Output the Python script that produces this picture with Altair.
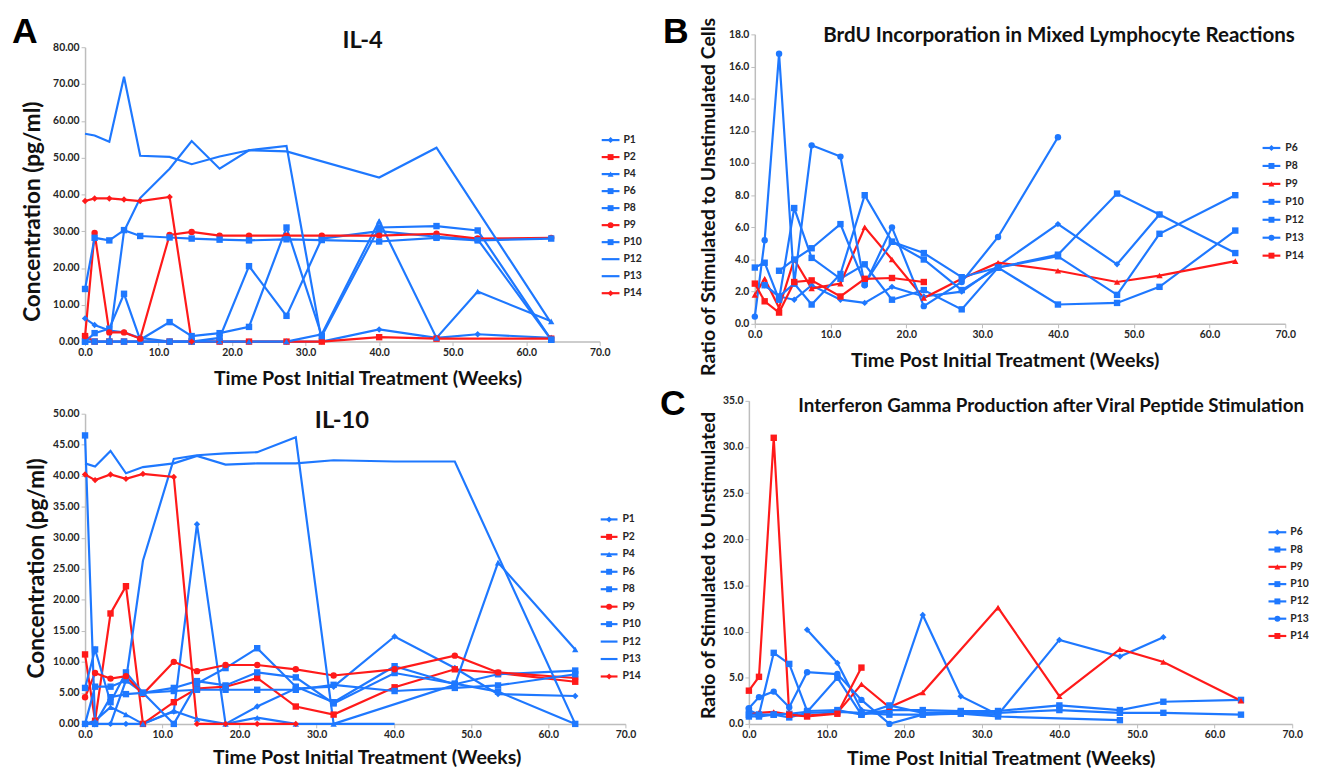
import altair as alt
import pandas as pd

BLUE = "#1e78ff"
RED = "#ff1a1a"
FONT = "Lato"
INK = "#262626"
AXIS_GRAY = "#bdbdbd"

# ---------------- IL-4 ----------------
IL4_WEEKS = [0.0, 1.3, 3.3, 5.3, 7.5, 11.5, 14.5, 18.3, 22.3, 27.4, 32.2, 40.0, 47.8, 53.4, 63.4]
IL4_P1 = [6.3, 4.5, 3.0, 2.5, 1.0, 0.0, 0.0, 0.0, 0.0, 0.0, 0.0, 3.3, 1.0, 2.0, 1.0]
IL4_P2 = [1.5, 0.0, 0.0, 0.0, 0.0, 0.0, 0.0, 0.0, 0.0, 0.0, 0.0, 1.2, 0.8, None, 0.8]
IL4_P4 = [0.0, 0.0, 0.0, 0.0, 0.0, 0.0, 0.0, 0.0, 0.0, 0.0, 2.0, 32.8, 1.0, 13.6, 5.5]
IL4_P6 = [0.0, 2.3, 3.5, 13.0, 0.5, 5.3, 1.5, 2.3, 4.0, 31.0, 1.5, 31.0, 31.4, 30.2, 0.5]
IL4_P8 = [0.0, 0.0, 0.0, 0.0, 0.0, 0.0, 0.0, 1.0, 20.5, 7.0, 28.0, 30.0, 28.5, 27.8, 0.5]
IL4_P9 = [1.5, 29.5, 2.5, 2.5, 0.8, 29.0, 29.8, 28.8, 28.8, 28.8, 28.8, 28.8, 29.3, 28.0, 28.2]
IL4_P10 = [14.3, 28.2, 27.5, 30.3, 28.7, 28.3, 28.0, 27.7, 27.5, 27.8, 27.6, 27.2, 28.2, 27.5, 28.0]
IL4_P12 = [56.5, 56.0, 54.3, 72.0, 50.5, 50.2, 48.2, 50.3, 52.0, 51.7, None, 44.6, 52.7, None, 5.0]
IL4_P13 = [None, None, 0.0, 30.0, 39.0, 47.0, 54.5, 47.0, 52.0, 53.2, 0.0, None, None, None, None]
IL4_P14 = [38.2, 38.9, 38.9, 38.6, 38.2, 39.3, 0.0, None, None, None, None, None, None, None, None]

# ---------------- IL-10 ----------------
IL10_WEEKS = [0.0, 1.3, 3.3, 5.3, 7.5, 11.5, 14.5, 18.2, 22.3, 27.3, 32.2, 40.1, 47.9, 53.5, 63.5]
IL10_P1 = [0.0, 0.0, 0.0, 0.0, 0.0, 2.0, 32.2, 0.0, 2.8, 5.7, 6.0, 14.1, 9.0, 4.8, 4.5]
IL10_P2 = [11.2, 0.5, 17.8, 22.2, 0.0, 3.5, 5.7, 6.0, 7.4, 2.8, 1.5, 5.9, 8.8, 8.2, 6.8]
IL10_P4 = [0.0, 0.5, 2.7, 1.5, 0.0, 2.1, 0.8, 0.0, 1.0, 0.0, 0.0, None, 6.3, 26.0, 12.0]
IL10_P6 = [5.8, 12.0, 3.5, 8.3, 5.0, 0.0, 6.5, 9.0, 12.2, 6.0, 3.5, 9.3, 6.4, 8.0, 8.6]
IL10_P8 = [0.0, 6.0, 6.0, 7.0, 5.0, 5.8, 6.9, 6.2, 8.3, 7.5, 3.3, 8.2, 6.5, 5.2, 0.0]
IL10_P9 = [4.3, 8.2, 7.3, 7.7, 4.8, 10.0, 8.5, 9.5, 9.5, 8.8, 7.8, 8.8, 11.0, 8.3, 7.4]
IL10_P10 = [46.5, 0.0, 4.3, 4.8, 5.0, 5.3, 5.5, 5.5, 5.5, 5.5, 6.3, 5.3, 5.8, 6.2, 8.0]
IL10_P12 = [42.0, 41.5, 44.0, 40.4, 41.4, 42.0, 43.2, 41.8, 42.0, 42.0, 42.5, 42.3, 42.3, None, 0.0]
IL10_P13 = [None, None, 0.0, 7.0, 26.3, 42.7, 43.3, 43.6, 43.8, 46.2, 0.0, 0.0, None, None, None]
IL10_P14 = [40.2, 39.3, 40.2, 39.5, 40.3, 39.8, 0.0, 0.0, 0.0, 0.0, None, None, None, None, None]

# ---------------- BrdU (B) ----------------
MLR_WEEKS = [0.0, 1.3, 3.2, 5.2, 7.5, 11.3, 14.5, 18.1, 22.3, 27.3, 32.1, 40.0, 47.8, 53.4, 63.4]
MLR_P6 = [None, 2.4, 1.7, 1.5, 2.4, 1.5, 1.3, 2.3, 1.7, 2.0, 3.6, 6.2, 3.7, 6.8, None]
MLR_P8 = [3.5, 3.8, 1.5, 7.2, 4.1, 2.8, 3.7, 1.5, 2.1, 0.9, 3.5, 1.2, 1.3, 2.3, 5.8]
MLR_P9 = [1.8, 2.8, 1.0, 4.0, 2.2, 2.5, 6.0, 4.0, 1.6, 2.8, 3.8, 3.3, 2.6, 3.0, 3.9]
MLR_P10 = [None, None, 3.3, 4.0, 4.7, 6.2, 2.5, 5.1, 4.4, 2.9, 3.5, 4.3, 8.1, 6.8, 4.4]
MLR_P12 = [None, 2.4, 1.7, 2.5, 1.2, 3.1, 8.0, 5.1, 4.0, 2.1, 3.5, 4.2, 1.8, 5.6, 8.0]
MLR_P13 = [0.45, 5.2, 16.8, 2.5, 11.1, 10.4, 2.4, 6.0, 1.1, 2.6, 5.4, 11.6, None, None, None]
MLR_P14 = [2.5, 1.4, 0.7, 2.6, 2.7, 1.7, 2.8, 2.85, 2.6, None, None, None, None, None, None]

# ---------------- IFN-gamma (C) ----------------
IFN_WEEKS = [0.0, 1.3, 3.2, 5.2, 7.5, 11.4, 14.5, 18.1, 22.4, 27.3, 32.1, 40.0, 47.8, 53.4, 63.4]
IFN_P6 = [None, None, None, None, 10.2, 6.6, 1.5, 1.2, 11.8, 3.0, 1.0, 9.1, 7.3, 9.4, None]
IFN_P8 = [1.5, 1.0, 7.7, 6.5, 1.4, 1.5, 1.0, 1.5, 1.5, 1.4, 1.4, 2.0, 1.5, 2.4, 2.6]
IFN_P9 = [1.0, 1.2, 1.3, 1.0, 0.9, 1.2, 4.3, 1.8, 3.4, None, 12.6, 3.0, 8.1, 6.7, 2.5]
IFN_P10 = [1.0, 1.0, 1.0, 1.1, 1.3, 5.0, 1.0, 2.0, 1.2, 1.3, 1.2, 1.5, 1.2, 1.2, 1.0]
IFN_P12 = [0.8, 0.8, 1.0, 0.7, 1.2, 1.3, 1.2, 1.0, 1.0, 1.1, 0.8, None, 0.4, None, None]
IFN_P13 = [1.7, 2.9, 3.5, 1.8, 5.6, 5.4, 2.6, 0.0, 1.0, 1.2, 1.0, None, None, None, None]
IFN_P14 = [3.6, 5.1, 31.0, 1.0, 0.8, 1.1, 6.1, None, None, None, None, None, None, None, None]

IL_PATIENTS = ["P1", "P2", "P4", "P6", "P8", "P9", "P10", "P12", "P13", "P14"]
IL_COLORS = [BLUE, RED, BLUE, BLUE, BLUE, RED, BLUE, BLUE, BLUE, RED]
IL_MARKERS = {"P1": "diamond", "P2": "square", "P4": "triangle-up", "P6": "square",
              "P8": "square", "P9": "circle", "P10": "square", "P14": "diamond"}

MLR_PATIENTS = ["P6", "P8", "P9", "P10", "P12", "P13", "P14"]
MLR_COLORS = [BLUE, BLUE, RED, BLUE, BLUE, BLUE, RED]
MLR_MARKERS = {"P6": "diamond", "P8": "square", "P9": "triangle-up", "P10": "square",
               "P12": "square", "P13": "circle", "P14": "square"}

IL4 = dict(zip(IL_PATIENTS, [IL4_P1, IL4_P2, IL4_P4, IL4_P6, IL4_P8, IL4_P9, IL4_P10, IL4_P12, IL4_P13, IL4_P14]))
IL10 = dict(zip(IL_PATIENTS, [IL10_P1, IL10_P2, IL10_P4, IL10_P6, IL10_P8, IL10_P9, IL10_P10, IL10_P12, IL10_P13, IL10_P14]))
MLR = dict(zip(MLR_PATIENTS, [MLR_P6, MLR_P8, MLR_P9, MLR_P10, MLR_P12, MLR_P13, MLR_P14]))
IFN = dict(zip(MLR_PATIENTS, [IFN_P6, IFN_P8, IFN_P9, IFN_P10, IFN_P12, IFN_P13, IFN_P14]))


def long_df(weeks, series):
    rows = []
    for p, vals in series.items():
        for w, v in zip(weeks, vals):
            if v is not None:
                rows.append({"patient": p, "week": w, "value": v})
    return pd.DataFrame(rows)


def panel(weeks, series, patients, colors, markers, cfg):
    df = long_df(weeks, series)
    marker_patients = [p for p in patients if p in markers]
    marker_shapes = [markers[p] for p in marker_patients]

    color = alt.Color("patient:N", scale=alt.Scale(domain=patients, range=colors), legend=None)
    shape = alt.Shape("patient:N", scale=alt.Scale(domain=marker_patients, range=marker_shapes), legend=None)

    x = alt.X("week:Q",
              scale=alt.Scale(domain=[0, 70], range=[cfg["x0"], cfg["x0"] + cfg["xr"]], nice=False, zero=False),
              axis=alt.Axis(values=list(range(0, 71, 10)), format=".1f", grid=False,
                            offset=cfg["xoff"],
                            labelFlush=False, labelFont=FONT, labelFontWeight="bold",
                            labelFontSize=10.5, labelColor=INK, domainColor=AXIS_GRAY,
                            domainWidth=1.5, tickColor=AXIS_GRAY, tickSize=4,
                            title="Time Post Initial Treatment (Weeks)", titleFont=FONT,
                            titleFontWeight="bold", titleFontSize=19.8, titleColor="#111",
                            titleX=cfg["xtx"], titleY=cfg["xty"], titleAlign="center",
                            titleBaseline="middle"))
    y = alt.Y("value:Q",
              scale=alt.Scale(domain=[0, cfg["ymax"]], range=[cfg["ybot"], cfg["ytop"]], nice=False),
              axis=alt.Axis(values=cfg["yvals"], format=cfg["yfmt"], grid=False,
                            offset=-cfg["x0"],
                            labelFlush=False, labelFont=FONT, labelFontWeight="bold",
                            labelFontSize=10.5, labelColor=INK, domainColor=AXIS_GRAY,
                            domainWidth=1.5, tickColor=AXIS_GRAY, tickSize=4,
                            title=cfg["ytitle"], titleFont=FONT, titleFontWeight="bold",
                            titleFontSize=cfg["ytsize"], titleColor="#111",
                            titleX=cfg["ytx"], titleY=cfg["yty"], titleAngle=270,
                            titleAlign="center", titleBaseline="middle"))

    base = alt.Chart(df)
    lines = base.mark_line(strokeWidth=2.2).encode(x=x, y=y, color=color, detail="patient:N")
    pts = base.transform_filter(
        alt.FieldOneOfPredicate(field="patient", oneOf=marker_patients)
    ).mark_point(filled=True, size=42, opacity=1).encode(x=x, y=y, color=color, shape=shape)

    leg_df = pd.DataFrame({"patient": patients})
    ly = alt.Y("patient:N", scale=alt.Scale(type="point", domain=patients,
                                            range=[cfg["ly0"], cfg["ly1"]], padding=0), axis=None)
    leg_rule = alt.Chart(leg_df).mark_rule(strokeWidth=2.2).encode(
        x=alt.value(cfg["lx0"]), x2=alt.value(cfg["lx1"]), y=ly, color=color)
    leg_pts = alt.Chart(leg_df).transform_filter(
        alt.FieldOneOfPredicate(field="patient", oneOf=marker_patients)
    ).mark_point(filled=True, size=36, opacity=1).encode(
        x=alt.value((cfg["lx0"] + cfg["lx1"]) / 2), y=ly, color=color, shape=shape)
    leg_txt = alt.Chart(leg_df).mark_text(align="left", baseline="middle", font=FONT,
                                          fontWeight="bold", fontSize=10.5, color=INK).encode(
        x=alt.value(cfg["ltx"]), y=ly, text="patient:N")

    title = alt.Chart(pd.DataFrame({"t": [cfg["title"]]})).mark_text(
        align="center", baseline="middle", font=FONT, fontWeight="bold",
        fontSize=cfg["tsize"], color="#111").encode(
        x=alt.value(cfg["tx"]), y=alt.value(cfg["ty"]), text="t:N")
    letter = alt.Chart(pd.DataFrame({"t": [cfg["letter"]]})).mark_text(
        align="center", baseline="alphabetic", font="Liberation Sans", fontWeight="bold",
        fontSize=36, color="#000").encode(
        x=alt.value(cfg["lex"]), y=alt.value(cfg["ley"]), text="t:N")

    layers = [leg_rule, leg_pts, leg_txt, title]
    if cfg["letter"]:
        layers.append(letter)
    return alt.layer(alt.layer(lines, pts), alt.layer(*layers)).resolve_scale(
        y="independent").properties(width=cfg["gw"], height=cfg["gh"])


# Grid: both column-1 panels have the same width, both row-1 panels the same height.
cfgA = dict(x0=0, xr=521, gw=672, gh=333, ybot=333, ytop=35, xoff=0,
            ymax=80, yvals=list(range(0, 81, 10)), yfmt=".2f",
            ytitle="Concentration (pg/ml)", ytsize=22.8, ytx=-53, yty=201, xtx=286, xty=37,
            title="IL-4", tsize=24, tx=281, ty=29, letter="A", lex=-61, ley=31,
            lx0=523, lx1=541, ltx=545, ly0=129, ly1=284)
cfgB = dict(x0=6, xr=537, gw=565, gh=333, ybot=315, ytop=22, xoff=-18,
            ymax=18, yvals=list(range(0, 19, 2)), yfmt=".1f",
            ytitle="Ratio of Stimulated to Unstimulated Cells", ytsize=19.8, ytx=-47, yty=186,
            xtx=259, xty=37, title="BrdU Incorporation in Mixed Lymphocyte Reactions", tsize=20.8,
            tx=314, ty=24, letter="B", lex=-74, ley=31,
            lx0=520, lx1=538, ltx=543, ly0=137, ly1=246)
cfgIL10 = dict(x0=0, xr=547, gw=672, gh=387, ybot=387, ytop=73, xoff=0,
               ymax=50, yvals=list(range(0, 51, 5)), yfmt=".2f",
               ytitle="Concentration (pg/ml)", ytsize=22.8, ytx=-49, yty=229, xtx=285, xty=34,
               title="IL-10", tsize=24, tx=260, ty=80, letter="", lex=0, ley=0,
               lx0=522, lx1=539, ltx=544, ly0=180, ly1=339)
cfgC = dict(x0=0, xr=550, gw=565, gh=387, ybot=387, ytop=60, xoff=0,
            ymax=35, yvals=list(range(0, 36, 5)), yfmt=".1f",
            ytitle="Ratio of Stimulated to Unstimulated", ytsize=19.5, ytx=-41, yty=226,
            xtx=255, xty=35, title="Interferon Gamma Production after Viral Peptide Stimulation",
            tsize=19, tx=306, ty=65, letter="C", lex=-77, ley=74,
            lx0=526, lx1=544, ltx=548, ly0=193, ly1=298)

pA = panel(IL4_WEEKS, IL4, IL_PATIENTS, IL_COLORS, IL_MARKERS, cfgA)
pB = panel(MLR_WEEKS, MLR, MLR_PATIENTS, MLR_COLORS, MLR_MARKERS, cfgB)
pIL10 = panel(IL10_WEEKS, IL10, IL_PATIENTS, IL_COLORS, IL_MARKERS, cfgIL10)
pC = panel(IFN_WEEKS, IFN, MLR_PATIENTS, MLR_COLORS, MLR_MARKERS, cfgC)

chart = alt.concat(pA, pB, pIL10, pC, columns=2, align="none", bounds="flush", spacing=0
                   ).resolve_scale(color="independent", shape="independent"
                   ).properties(padding={"left": 4, "top": 0, "right": 0, "bottom": 0},
                                background="white"
                   ).configure_view(stroke=None)

chart.save("out.html", embed_options={"renderer": "svg", "actions": False})
